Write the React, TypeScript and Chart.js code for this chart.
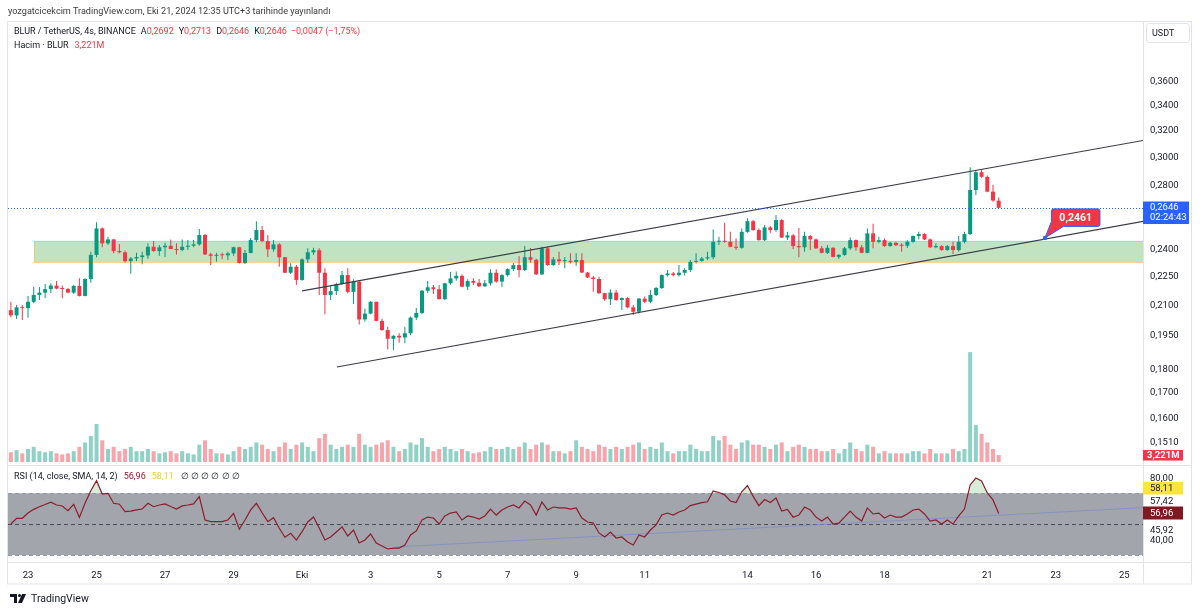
import React, { useEffect, useRef } from 'react';
import { Chart, registerables } from 'chart.js';

Chart.register(...registerables);

// ---------- DATA (4h candles, BLUR/USDT, bar index 0 = 23 Sep 03:00) ----------
const FIRST_BAR = -3;
const FIRST_OPEN = 0.2068;
const LAST_OPEN = 0.2692;

const closes = [
  0.2042, 0.2082, 0.2078, 0.2110, 0.2145, 0.2157, 0.2175, 0.2194, 0.2178, 0.2176, 0.2157, 0.2192,
  0.2140, 0.2229, 0.2362, 0.2518, 0.2429, 0.2452, 0.2384, 0.2377, 0.2327, 0.2342, 0.2350, 0.2359,
  0.2409, 0.2384, 0.2406, 0.2415, 0.2396, 0.2390, 0.2409, 0.2415, 0.2423, 0.2478, 0.2365, 0.2357,
  0.2362, 0.2360, 0.2371, 0.2406, 0.2317, 0.2373, 0.2448, 0.2508, 0.2442, 0.2394, 0.2423, 0.2349,
  0.2263, 0.2296, 0.2224, 0.2337, 0.2377, 0.2389, 0.2263, 0.2145, 0.2165, 0.2202, 0.2250, 0.2161,
  0.2215, 0.2022, 0.2051, 0.2110, 0.2015, 0.1971, 0.1930, 0.1944, 0.1936, 0.1956, 0.2031, 0.2054,
  0.2167, 0.2185, 0.2175, 0.2123, 0.2206, 0.2232, 0.2246, 0.2188, 0.2218, 0.2209, 0.2190, 0.2206,
  0.2263, 0.2215, 0.2250, 0.2283, 0.2305, 0.2278, 0.2349, 0.2335, 0.2254, 0.2400, 0.2305, 0.2337,
  0.2327, 0.2328, 0.2323, 0.2333, 0.2264, 0.2237, 0.2229, 0.2154, 0.2123, 0.2157, 0.2119, 0.2129,
  0.2082, 0.2060, 0.2126, 0.2110, 0.2145, 0.2181, 0.2250, 0.2259, 0.2250, 0.2263, 0.2278, 0.2323,
  0.2328, 0.2342, 0.2349, 0.2438, 0.2444, 0.2438, 0.2409, 0.2403, 0.2497, 0.2562, 0.2508, 0.2448,
  0.2524, 0.2508, 0.2569, 0.2463, 0.2476, 0.2413, 0.2406, 0.2472, 0.2452, 0.2400, 0.2374, 0.2403,
  0.2351, 0.2362, 0.2400, 0.2448, 0.2406, 0.2374, 0.2488, 0.2438, 0.2448, 0.2413, 0.2432, 0.2418,
  0.2415, 0.2438, 0.2472, 0.2484, 0.2452, 0.2406, 0.2413, 0.2390, 0.2413, 0.2390, 0.2438, 0.2484,
  0.2762, 0.2883, 0.2851, 0.2751, 0.2693, 0.2646,
];

const highs = [
  0.2110, 0.2094, 0.2094, 0.2139, 0.2188, 0.2187, 0.2202, 0.2206, 0.2218, 0.2194, 0.2181, 0.2197,
  0.2233, 0.2233, 0.2380, 0.2555, 0.2524, 0.2468, 0.2454, 0.2425, 0.2386, 0.2351, 0.2374, 0.2380,
  0.2429, 0.2442, 0.2419, 0.2432, 0.2452, 0.2429, 0.2452, 0.2448, 0.2448, 0.2514, 0.2484, 0.2374,
  0.2374, 0.2374, 0.2380, 0.2409, 0.2409, 0.2390, 0.2460, 0.2562, 0.2533, 0.2478, 0.2448, 0.2429,
  0.2351, 0.2315, 0.2305, 0.2342, 0.2400, 0.2403, 0.2400, 0.2287, 0.2192, 0.2209, 0.2272, 0.2287,
  0.2228, 0.2224, 0.2076, 0.2114, 0.2110, 0.2026, 0.1987, 0.1947, 0.1956, 0.1987, 0.2036, 0.2079,
  0.2171, 0.2218, 0.2197, 0.2197, 0.2209, 0.2267, 0.2270, 0.2254, 0.2228, 0.2233, 0.2229, 0.2224,
  0.2282, 0.2282, 0.2254, 0.2287, 0.2317, 0.2355, 0.2413, 0.2402, 0.2340, 0.2409, 0.2409, 0.2351,
  0.2380, 0.2351, 0.2372, 0.2372, 0.2372, 0.2267, 0.2245, 0.2241, 0.2157, 0.2175, 0.2171, 0.2133,
  0.2133, 0.2094, 0.2129, 0.2137, 0.2171, 0.2187, 0.2254, 0.2278, 0.2267, 0.2305, 0.2287, 0.2333,
  0.2372, 0.2351, 0.2380, 0.2511, 0.2468, 0.2553, 0.2497, 0.2458, 0.2518, 0.2581, 0.2569, 0.2518,
  0.2539, 0.2533, 0.2600, 0.2575, 0.2497, 0.2484, 0.2521, 0.2497, 0.2478, 0.2458, 0.2413, 0.2419,
  0.2407, 0.2367, 0.2407, 0.2464, 0.2452, 0.2419, 0.2518, 0.2547, 0.2468, 0.2458, 0.2438, 0.2438,
  0.2429, 0.2448, 0.2476, 0.2497, 0.2488, 0.2458, 0.2429, 0.2418, 0.2419, 0.2438, 0.2472, 0.2497,
  0.2918, 0.2893, 0.2904, 0.2860, 0.2798, 0.2713,
];

const lows = [
  0.2032, 0.2024, 0.2019, 0.2030, 0.2102, 0.2119, 0.2129, 0.2155, 0.2175, 0.2128, 0.2154, 0.2150,
  0.2137, 0.2138, 0.2209, 0.2349, 0.2406, 0.2419, 0.2371, 0.2371, 0.2320, 0.2258, 0.2327, 0.2309,
  0.2340, 0.2380, 0.2357, 0.2351, 0.2394, 0.2365, 0.2383, 0.2390, 0.2406, 0.2415, 0.2362, 0.2305,
  0.2323, 0.2337, 0.2333, 0.2357, 0.2314, 0.2311, 0.2371, 0.2435, 0.2435, 0.2351, 0.2380, 0.2296,
  0.2260, 0.2256, 0.2197, 0.2220, 0.2317, 0.2362, 0.2145, 0.2047, 0.2119, 0.2145, 0.2197, 0.2154,
  0.2099, 0.1998, 0.2011, 0.2047, 0.2013, 0.1968, 0.1882, 0.1878, 0.1912, 0.1909, 0.1947, 0.2019,
  0.2047, 0.2155, 0.2150, 0.2123, 0.2119, 0.2199, 0.2220, 0.2185, 0.2171, 0.2197, 0.2187, 0.2188,
  0.2195, 0.2209, 0.2188, 0.2242, 0.2272, 0.2239, 0.2272, 0.2320, 0.2250, 0.2250, 0.2302, 0.2302,
  0.2305, 0.2287, 0.2314, 0.2302, 0.2262, 0.2234, 0.2161, 0.2150, 0.2114, 0.2094, 0.2115, 0.2068,
  0.2077, 0.2044, 0.2051, 0.2102, 0.2102, 0.2140, 0.2176, 0.2242, 0.2242, 0.2242, 0.2248, 0.2267,
  0.2314, 0.2323, 0.2333, 0.2337, 0.2419, 0.2432, 0.2406, 0.2390, 0.2398, 0.2492, 0.2504, 0.2444,
  0.2442, 0.2492, 0.2497, 0.2460, 0.2448, 0.2394, 0.2349, 0.2380, 0.2390, 0.2396, 0.2371, 0.2367,
  0.2349, 0.2339, 0.2357, 0.2390, 0.2386, 0.2371, 0.2371, 0.2400, 0.2429, 0.2409, 0.2409, 0.2413,
  0.2380, 0.2402, 0.2432, 0.2452, 0.2448, 0.2402, 0.2400, 0.2386, 0.2386, 0.2367, 0.2380, 0.2429,
  0.2479, 0.2729, 0.2845, 0.2747, 0.2685, 0.2646,
];

// volume in millions of BLUR
const volumes = [
  4.5, 5.5, 4, 6, 7, 5, 4.5, 5, 4, 3.5, 4, 5,
  7, 9, 12, 17.5, 10, 6, 7, 5, 6, 7, 5, 5,
  6, 5, 4, 4.5, 5, 4, 5, 4, 3.5, 8, 10, 6,
  4, 4, 3.5, 5, 7, 6, 7, 9, 8, 6, 5, 7,
  9, 6, 8, 9, 7, 5, 11, 13, 8, 6, 7, 8,
  7, 13, 8, 7, 8, 9, 10, 7, 5, 6, 9, 8,
  11, 7, 5, 6, 7, 6, 5, 6, 5, 4, 4.5, 5,
  7, 6, 6, 7, 6, 7, 9, 6, 8, 9, 8, 5,
  5, 4, 5, 10, 7, 6, 5, 8, 7, 6, 7, 6,
  7, 8, 9, 6, 7, 6, 9, 5, 4, 5, 5, 8,
  6, 5, 5, 12, 10, 12, 8, 6, 9, 10, 8, 8,
  7, 6, 8, 9, 5, 7, 8, 7, 6, 6, 5, 5,
  6, 4, 6, 9, 6, 5, 8, 7, 4, 5, 4, 4,
  4, 4, 5, 5, 4, 6, 4, 4, 4, 6, 5, 6,
  50.6, 17, 13, 9, 6, 3.221,
];

const rsiValues = [
  50.1, 53.8, 53.8, 57.2, 59.6, 61.3, 62.7, 64.2, 62.4, 61.8, 58.7, 62.9,
  54.4, 63.7, 71.7, 78.2, 69.5, 70.0, 63.5, 62.9, 58.1, 58.5, 59.2, 59.8,
  63.5, 61.3, 62.4, 63.1, 61.4, 59.8, 61.8, 62.4, 63.1, 67.8, 52.7, 51.6,
  51.6, 51.6, 52.7, 57.0, 46.7, 52.7, 59.2, 63.5, 57.4, 51.6, 54.2, 47.3,
  41.5, 44.1, 39.7, 45.1, 51.4, 54.6, 47.5, 39.7, 41.7, 44.9, 48.2, 42.3,
  46.2, 37.8, 39.7, 43.6, 37.8, 35.8, 33.9, 34.5, 34.5, 36.5, 43.0, 45.6,
  52.7, 54.6, 54.0, 50.1, 55.3, 57.2, 57.9, 52.7, 55.3, 54.6, 53.3, 55.3,
  59.8, 55.9, 59.2, 61.1, 62.4, 60.5, 65.0, 62.4, 55.9, 64.4, 59.2, 61.1,
  60.5, 60.5, 59.8, 60.5, 54.0, 51.4, 50.7, 44.3, 41.7, 44.9, 41.0, 41.7,
  38.4, 36.5, 43.0, 41.7, 46.2, 49.5, 55.9, 57.2, 55.9, 57.9, 59.2, 62.0,
  63.0, 64.0, 64.5, 71.5, 70.5, 69.0, 65.0, 64.0, 71.0, 75.0, 68.0, 62.0,
  66.0, 64.0, 67.0, 58.5, 59.5, 54.5, 55.9, 61.1, 59.2, 54.6, 52.0, 54.6,
  50.1, 50.7, 54.6, 58.5, 54.6, 52.0, 60.5, 56.6, 57.2, 54.0, 55.9, 54.6,
  54.6, 56.6, 59.2, 59.8, 56.6, 52.0, 52.7, 50.1, 52.7, 50.1, 55.3, 59.8,
  75.4, 79.9, 78.0, 70.2, 65.7, 56.96,
];

// time axis: bar index of each day label
const dayTickBars = [0, 12, 24, 36, 48, 60, 72, 84, 96, 108, 126, 138, 150, 168, 180, 192];
const dayTickLabels = ['23', '25', '27', '29', 'Eki', '3', '5', '7', '9', '11', '14', '16', '18', '21', '23', '25'];

const priceTicks = [0.36, 0.34, 0.32, 0.30, 0.28, 0.24, 0.225, 0.21, 0.195, 0.18, 0.17, 0.16, 0.151];

// drawings
const zoneStartBar = 1.05;
const zoneTop = 0.2444;
const zoneBottom = 0.2322;
const upperChannel = [{ x: 48.0, y: 0.2166 }, { x: 195.3, y: 0.3112 }];
const lowerChannel = [{ x: 54.1, y: 0.1803 }, { x: 195.3, y: 0.2561 }];
const rsiTrend = [{ x: 64.3, y: 35.2 }, { x: 195.3, y: 60.7 }];
const calloutBar = 178.1;
const calloutPrice = 0.2461;
const lastPrice = 0.2646;
const lastVolume = 3.221;

// ---------- STYLE ----------
const FONT = 'Roboto, "Liberation Sans", Arial, sans-serif';
const UP = '#089981';
const DOWN = '#f23645';
const UP_VOL = 'rgba(8,153,129,0.45)';
const DOWN_VOL = 'rgba(242,54,69,0.45)';
const TEXT = '#131722';
const LINE = '#e0e3eb';
const BLUE = '#2962ff';

const fmt4 = (v: number) => v.toFixed(4).replace('.', ',');

const drawPlugin = {
  id: 'tvDrawings',
  beforeDatasetsDraw(chart: any) {
    const { ctx, chartArea, scales } = chart;
    const xs = scales.x, ys = scales.y, rs = scales.rsi;
    const L = chartArea.left, R = chartArea.right;
    ctx.save();
    // RSI band
    const y70 = rs.getPixelForValue(70), y30 = rs.getPixelForValue(30), y50 = rs.getPixelForValue(50);
    ctx.fillStyle = 'rgba(120,123,134,0.68)';
    ctx.fillRect(L, y70, R - L, y30 - y70);
    ctx.setLineDash([4, 3]);
    ctx.lineWidth = 1;
    ctx.strokeStyle = '#9598a1';
    ctx.beginPath();
    ctx.moveTo(L, Math.round(y70) + 0.5); ctx.lineTo(R, Math.round(y70) + 0.5);
    ctx.moveTo(L, Math.round(y30) + 0.5); ctx.lineTo(R, Math.round(y30) + 0.5);
    ctx.stroke();
    ctx.strokeStyle = '#4a4d57';
    ctx.beginPath();
    ctx.moveTo(L, Math.round(y50) + 0.5); ctx.lineTo(R, Math.round(y50) + 0.5);
    ctx.stroke();
    ctx.setLineDash([]);
    // support zone
    const zx = xs.getPixelForValue(zoneStartBar);
    const zt = ys.getPixelForValue(zoneTop), zb = ys.getPixelForValue(zoneBottom);
    ctx.fillStyle = 'rgba(76,175,80,0.35)';
    ctx.fillRect(zx, zt, R - zx, zb - zt);
    ctx.strokeStyle = 'rgba(255,183,77,0.55)';
    ctx.strokeRect(Math.round(zx) + 0.5, Math.round(zt) + 0.5, R - zx, Math.round(zb - zt));
    ctx.restore();
  },
  afterDraw(chart: any) {
    const { ctx, chartArea, scales } = chart;
    const xs = scales.x, ys = scales.y, rs = scales.rsi, vs = scales.yv;
    const L = chartArea.left, R = chartArea.right;
    ctx.save();
    // last price dotted line
    const py = ys.getPixelForValue(lastPrice);
    ctx.strokeStyle = BLUE;
    ctx.lineWidth = 1;
    ctx.setLineDash([1, 2]);
    ctx.beginPath();
    ctx.moveTo(L, Math.round(py) + 0.5); ctx.lineTo(R, Math.round(py) + 0.5);
    ctx.stroke();
    ctx.setLineDash([]);

    // separators & frame
    ctx.strokeStyle = LINE;
    ctx.beginPath();
    ctx.moveTo(7, Math.round(ys.bottom) + 0.5); ctx.lineTo(1192, Math.round(ys.bottom) + 0.5);
    ctx.moveTo(7, Math.round(rs.bottom) + 0.5); ctx.lineTo(1192, Math.round(rs.bottom) + 0.5);
    ctx.moveTo(Math.round(R) + 0.5, 22); ctx.lineTo(Math.round(R) + 0.5, 584);
    ctx.stroke();
    ctx.strokeRect(7.5, 21.5, 1184, 562.5);

    // callout with pointer
    const cx = xs.getPixelForValue(calloutBar), cy = ys.getPixelForValue(calloutPrice);
    const bx = cx + 6.5, by = cy - 29, bw = 48.5, bh = 17.5;
    ctx.beginPath();
    ctx.moveTo(bx + 2, by);
    ctx.lineTo(bx + bw - 2, by);
    ctx.quadraticCurveTo(bx + bw, by, bx + bw, by + 2);
    ctx.lineTo(bx + bw, by + bh - 2);
    ctx.quadraticCurveTo(bx + bw, by + bh, bx + bw - 2, by + bh);
    ctx.lineTo(bx + 12, by + bh);
    ctx.lineTo(cx, cy);
    ctx.lineTo(bx, by + bh - 5);
    ctx.lineTo(bx, by + 2);
    ctx.quadraticCurveTo(bx, by, bx + 2, by);
    ctx.closePath();
    ctx.fillStyle = DOWN;
    ctx.fill();
    ctx.strokeStyle = BLUE;
    ctx.lineWidth = 1;
    ctx.stroke();
    ctx.fillStyle = '#ffffff';
    ctx.font = `bold 10.5px ${FONT}`;
    ctx.textAlign = 'center';
    ctx.textBaseline = 'middle';
    ctx.fillText(fmt4(calloutPrice), bx + bw / 2, by + bh / 2 + 0.5);
    ctx.beginPath();
    ctx.arc(cx, cy, 2.2, 0, Math.PI * 2);
    ctx.fillStyle = BLUE;
    ctx.fill();

    // right axis labels
    ctx.textAlign = 'left';
    ctx.textBaseline = 'middle';
    // last price
    ctx.fillStyle = BLUE;
    ctx.fillRect(R, py - 6.3, 46, 22.5);
    ctx.fillStyle = '#ffffff';
    ctx.font = `9.5px ${FONT}`;
    ctx.fillText(fmt4(lastPrice), R + 7, py - 0.5);
    ctx.fillText('02:24:43', R + 7, py + 10);
    // volume
    const vy = vs.getPixelForValue(lastVolume);
    ctx.fillStyle = DOWN;
    ctx.fillRect(R, vy - 5, 40, 10.5);
    ctx.fillStyle = '#ffffff';
    ctx.font = `bold 9.5px ${FONT}`;
    ctx.fillText('3,221M', R + 4, vy + 0.5);
    // RSI axis
    ctx.font = `9.5px ${FONT}`;
    ctx.fillStyle = TEXT;
    ctx.fillText('80,00', R + 7, rs.getPixelForValue(80) + 0.5);
    ctx.fillText('40,00', R + 7, rs.getPixelForValue(40) + 1);
    ctx.fillStyle = '#ffffff';
    ctx.fillRect(R + 1, 524.5, 46, 10.5);
    ctx.fillStyle = TEXT;
    ctx.fillText('45,92', R + 7, 530.5);
    ctx.fillText('57,42', R + 7, 501.2);
    ctx.fillStyle = '#fbe43c';
    ctx.fillRect(R, 482, 40, 12.5);
    ctx.fillStyle = TEXT;
    ctx.fillText('58,11', R + 7, 488.8);
    ctx.fillStyle = '#801922';
    ctx.fillRect(R, 506.5, 40, 13);
    ctx.fillStyle = '#ffffff';
    ctx.fillText('56,96', R + 7, 513.8);

    // currency box
    ctx.strokeStyle = LINE;
    ctx.lineWidth = 1;
    ctx.beginPath();
    const ux = 1146.5, uy = 23.5, uw = 43, uh = 19;
    ctx.moveTo(ux + 3, uy); ctx.lineTo(ux + uw - 3, uy); ctx.quadraticCurveTo(ux + uw, uy, ux + uw, uy + 3);
    ctx.lineTo(ux + uw, uy + uh - 3); ctx.quadraticCurveTo(ux + uw, uy + uh, ux + uw - 3, uy + uh);
    ctx.lineTo(ux + 3, uy + uh); ctx.quadraticCurveTo(ux, uy + uh, ux, uy + uh - 3);
    ctx.lineTo(ux, uy + 3); ctx.quadraticCurveTo(ux, uy, ux + 3, uy);
    ctx.stroke();
    ctx.fillStyle = TEXT;
    ctx.font = `9px ${FONT}`;
    ctx.fillText('USDT', 1152, 33.5);
    ctx.restore();
  },
};

export default function App() {
  const canvasRef = useRef<HTMLCanvasElement | null>(null);

  useEffect(() => {
    const canvas = canvasRef.current;
    if (!canvas) return;
    Chart.defaults.font.family = FONT;
    const bars = closes.map((_, k) => FIRST_BAR + k);
    const opens = closes.map((_, k) =>
      k === 0 ? FIRST_OPEN : k === closes.length - 1 ? LAST_OPEN : closes[k - 1]
    );
    const isUp = closes.map((c, k) => c >= opens[k]);
    const candleColors = isUp.map((u) => (u ? UP : DOWN));
    const volColors = isUp.map((u) => (u ? UP_VOL : DOWN_VOL));

    const chart = new Chart(canvas, {
      type: 'bar',
      data: {
        datasets: [
          {
            type: 'bar',
            label: 'Volume',
            data: bars.map((b, k) => ({ x: b, y: volumes[k] })),
            backgroundColor: volColors,
            barThickness: 4,
            grouped: false,
            inflateAmount: 0,
            borderWidth: 0,
            xAxisID: 'x',
            yAxisID: 'yv',
            order: 6,
          } as any,
          {
            type: 'bar',
            label: 'Wick',
            data: bars.map((b, k) => ({ x: b, y: [lows[k], highs[k]] })),
            backgroundColor: candleColors,
            barThickness: 1,
            grouped: false,
            inflateAmount: 0,
            borderWidth: 0,
            xAxisID: 'x',
            yAxisID: 'y',
            order: 5,
          } as any,
          {
            type: 'bar',
            label: 'Body',
            data: bars.map((b, k) => ({ x: b, y: [opens[k], closes[k]] })),
            backgroundColor: candleColors,
            barThickness: 4,
            minBarLength: 1,
            grouped: false,
            inflateAmount: 0,
            borderWidth: 0,
            xAxisID: 'x',
            yAxisID: 'y',
            order: 4,
          } as any,
          {
            type: 'line',
            label: 'Upper channel',
            data: upperChannel,
            borderColor: '#3a3d45',
            borderWidth: 1.1,
            pointRadius: 0,
            xAxisID: 'x',
            yAxisID: 'y',
            order: 3,
          } as any,
          {
            type: 'line',
            label: 'Lower channel',
            data: lowerChannel,
            borderColor: '#3a3d45',
            borderWidth: 1.1,
            pointRadius: 0,
            xAxisID: 'x',
            yAxisID: 'y',
            order: 3,
          } as any,
          {
            type: 'line',
            label: 'RSI trend',
            data: rsiTrend,
            borderColor: 'rgba(120,140,200,0.75)',
            borderWidth: 1,
            pointRadius: 0,
            xAxisID: 'x',
            yAxisID: 'rsi',
            order: 2,
          } as any,
          {
            type: 'line',
            label: 'RSI',
            data: bars.map((b, k) => ({ x: b, y: rsiValues[k] })),
            borderColor: '#8c1d2a',
            borderWidth: 1.2,
            pointRadius: 0,
            tension: 0,
            fill: { value: 70, above: 'rgba(76,175,80,0.22)', below: 'rgba(0,0,0,0)' },
            xAxisID: 'x',
            yAxisID: 'rsi',
            order: 1,
          } as any,
        ],
      },
      options: {
        responsive: false,
        animation: false,
        devicePixelRatio: 1,
        events: [],
        layout: { padding: { left: 8, top: 22, right: 8, bottom: 27 } },
        plugins: { legend: { display: false }, tooltip: { enabled: false } },
        scales: {
          x: {
            type: 'linear',
            offset: false,
            min: -3.503,
            max: 195.271,
            grid: { display: false, drawTicks: false, offset: false },
            border: { display: false },
            afterBuildTicks: (s: any) => {
              s.ticks = dayTickBars.map((v) => ({ value: v }));
            },
            afterFit: (s: any) => {
              s.height = 22;
            },
            ticks: {
              autoSkip: false,
              maxRotation: 0,
              padding: 7.5,
              color: TEXT,
              font: { size: 9.5, family: FONT },
              callback: (_v: any, i: number) => dayTickLabels[i],
            },
          },
          y: {
            type: 'logarithmic',
            position: 'right',
            stack: 'right',
            stackWeight: 443,
            min: 0.1424,
            max: 0.4140,
            grid: { display: false, drawTicks: false },
            border: { display: false },
            afterBuildTicks: (s: any) => {
              s.ticks = priceTicks.map((v) => ({ value: v }));
            },
            afterFit: (s: any) => {
              s.width = 49;
            },
            ticks: {
              autoSkip: false,
              padding: 7,
              labelOffset: 1.5,
              color: TEXT,
              font: { size: 9.5, family: FONT },
              callback: (v: any) => fmt4(Number(v)),
            },
          },
          rsi: {
            type: 'linear',
            position: 'right',
            stack: 'right',
            stackWeight: 97,
            min: 25.46,
            max: 88.35,
            grid: { display: false, drawTicks: false },
            border: { display: false },
            ticks: { display: false },
            afterFit: (s: any) => {
              s.width = 49;
            },
          },
          yv: {
            type: 'linear',
            position: 'right',
            display: false,
            min: -46.0,
            max: 202.5,
          },
        },
      } as any,
      plugins: [drawPlugin],
    });
    return () => chart.destroy();
  }, []);

  const red = { color: DOWN };
  return (
    <div
      style={{
        position: 'absolute',
        left: 0,
        top: 0,
        width: 1200,
        height: 611,
        background: '#ffffff',
        overflow: 'hidden',
        fontFamily: FONT,
        color: TEXT,
      }}
    >
      <canvas
        ref={canvasRef}
        width={1200}
        height={611}
        style={{ position: 'absolute', left: 0, top: 0, width: 1200, height: 611 }}
      />
      <div style={{ position: 'absolute', left: 8, top: 5, fontSize: 9.1, lineHeight: '12px', color: '#3b3b3b', whiteSpace: 'nowrap' }}>
        yozgatcicekcim TradingView.com, Eki 21, 2024 12:35 UTC+3 tarihinde yayınlandı
      </div>
      <div style={{ position: 'absolute', left: 14, top: 25, fontSize: 9, lineHeight: '12px', whiteSpace: 'nowrap' }}>
        <span>BLUR / TetherUS, 4s, BINANCE</span>
        <span style={{ marginLeft: 5 }}>A</span><span style={red}>0,2692</span>
        <span style={{ marginLeft: 5 }}>Y</span><span style={red}>0,2713</span>
        <span style={{ marginLeft: 5 }}>D</span><span style={red}>0,2646</span>
        <span style={{ marginLeft: 5 }}>K</span><span style={red}>0,2646</span>
        <span style={{ ...red, marginLeft: 4 }}>−0,0047 (−1,75%)</span>
      </div>
      <div style={{ position: 'absolute', left: 14, top: 39, fontSize: 9, lineHeight: '12px', whiteSpace: 'nowrap' }}>
        <span>Hacim · BLUR</span>
        <span style={{ ...red, marginLeft: 6 }}>3,221M</span>
      </div>
      <div style={{ position: 'absolute', left: 14, top: 470, fontSize: 9, lineHeight: '12px', whiteSpace: 'nowrap' }}>
        <span>RSI (14, close, SMA, 14, 2)</span>
        <span style={{ color: '#8c1d2a', marginLeft: 6 }}>56,96</span>
        <span style={{ color: '#f2d31b', marginLeft: 6 }}>58,11</span>
        <span style={{ marginLeft: 7 }}>∅ ∅ ∅ ∅ ∅ ∅</span>
      </div>
      <div style={{ position: 'absolute', left: 10, top: 592, height: 12, display: 'flex', alignItems: 'center', whiteSpace: 'nowrap' }}>
        <svg width="17" height="9" viewBox="0 0 17 9" style={{ marginRight: 4 }}>
          <rect x="0" y="0" width="7" height="3" fill={TEXT} />
          <rect x="4" y="0" width="3" height="9" fill={TEXT} />
          <circle cx="9.5" cy="1.5" r="1.5" fill={TEXT} />
          <polygon points="8,9 12,0 16,0 12,9" fill={TEXT} />
        </svg>
        <span style={{ fontSize: 10.5, color: TEXT }}>TradingView</span>
      </div>
    </div>
  );
}
